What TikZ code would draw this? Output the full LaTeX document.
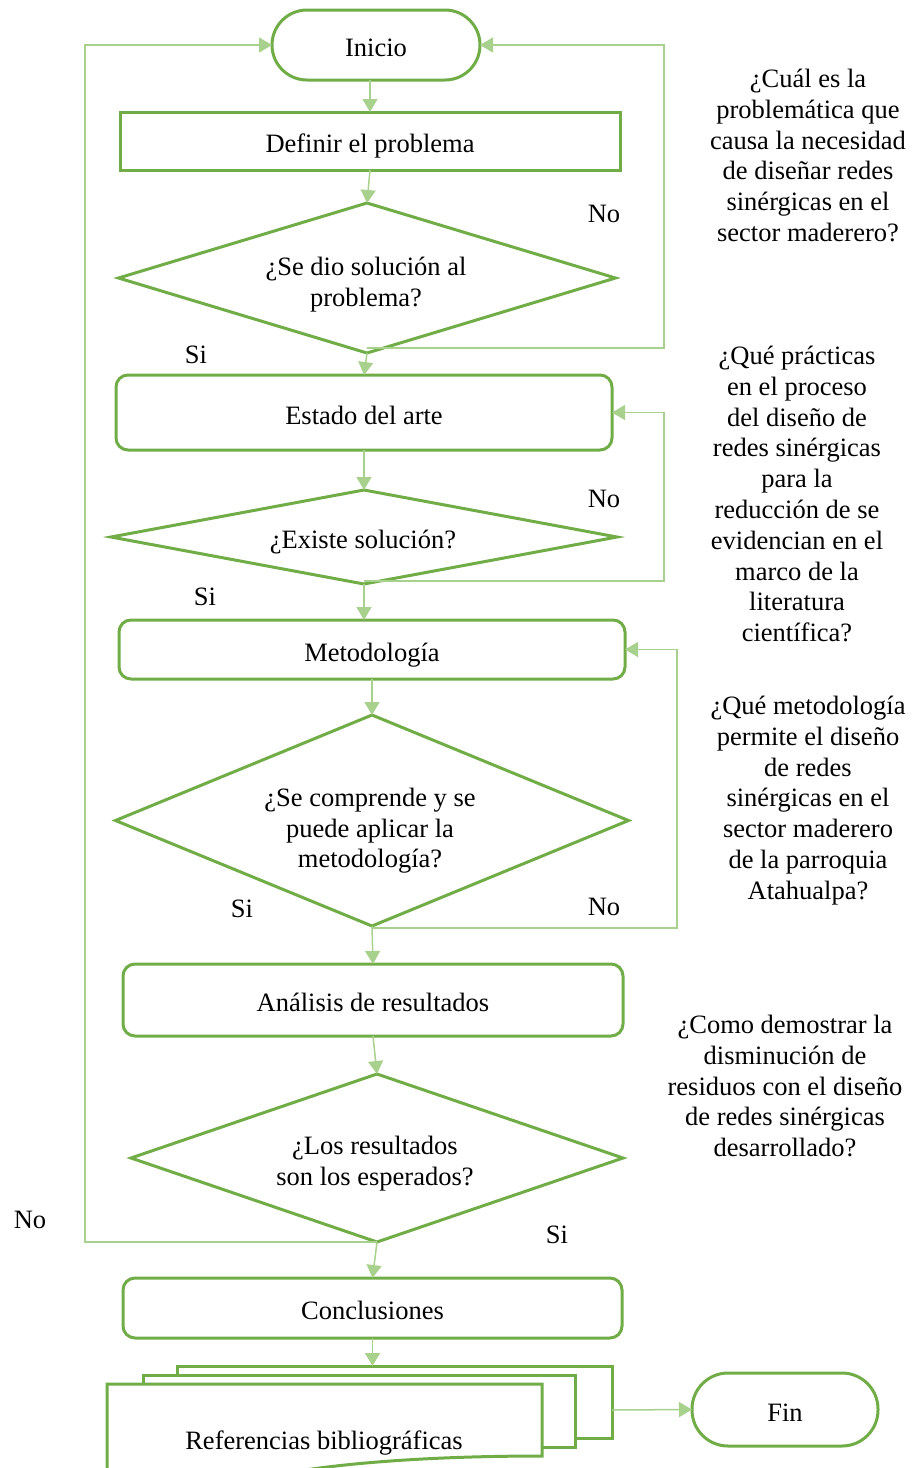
\documentclass[tikz,border=0pt]{standalone}
\usepackage{fontspec}
\setmainfont{Liberation Serif}
\usetikzlibrary{shapes.geometric,arrows.meta}
\definecolor{shapegreen}{HTML}{70AD47}
\definecolor{linkgreen}{HTML}{A9D18E}
\begin{document}
\begin{tikzpicture}[x=1pt,y=-1pt,
  every node/.style={font=\fontsize{26.5}{30.8}\selectfont, inner sep=0pt, outer sep=0pt},
  shp/.style={draw=shapegreen, line width=3pt, fill=white},
  one/.style={text height=23pt, text depth=0pt},
  stadium/.style={shp, one, rectangle, rounded corners=35pt},
  proc/.style={shp, one, rectangle},
  rproc/.style={shp, one, rectangle, rounded corners=12pt},
  dec/.style={shp, diamond},
  link/.style={draw=linkgreen, line width=1.5pt, -{Triangle[length=13pt,width=15pt]}},
  txt/.style={align=center},
]
\useasboundingbox (0,0) rectangle (911,1468);
\clip (0,0) rectangle (911,1468);

% shapes
\node[stadium, minimum width=208, minimum height=70] (inicio) at (376,45) {Inicio};
\node[proc, minimum width=500, minimum height=58] (definir) at (370,141) {Definir el problema};
\node[dec, minimum width=497, minimum height=150] (d1) at (367,278) {};
\node[txt, anchor=north] (d1t) at (366,257) {¿Se dio solución al\\problema?};
\node[rproc, minimum width=496, minimum height=75] (estado) at (364,412.5) {Estado del arte};
\node[dec, minimum width=506, minimum height=94] (d2) at (364,537) {};
\node (d2t) at (363,542) {¿Existe solución?};
\node[rproc, minimum width=506, minimum height=59] (metod) at (372,649.5) {Metodología};
\node[dec, minimum width=513, minimum height=211] (d3) at (372,820.5) {};
\node[txt, anchor=north] (d3t) at (370,788) {¿Se comprende y se\\puede aplicar la\\metodología?};
\node[rproc, minimum width=500, minimum height=72] (analisis) at (373,1000) {Análisis de resultados};
\node[dec, minimum width=492, minimum height=168] (d4) at (377,1158) {};
\node[txt, anchor=north] (d4t) at (375,1136) {¿Los resultados\\son los esperados?};
\node[rproc, minimum width=499, minimum height=60] (concl) at (372.5,1308) {Conclusiones};

% multi-document
\node[proc, minimum width=435, minimum height=72] (refs) at (394.5,1402) {};
\node[proc, minimum width=432, minimum height=72] (refsb) at (359,1411) {};
\draw[shp] (107,1384) -- (542,1384) -- (542,1456)
  .. controls (440,1456) and (340,1462) .. (270,1476)
  .. controls (210,1490) and (150,1500) .. (107,1496) -- cycle;
\node (reftxt) at (324,1443) {Referencias bibliográficas};

\node[stadium, rounded corners=36pt, minimum width=186, minimum height=73] (fin) at (785,1409.5) {Fin};

% corner coordinates for loops
\coordinate (r1) at (664,45);
\coordinate (r2) at (664,412.5);
\coordinate (r3) at (677,649.5);
\coordinate (r4) at (85,45);

% connectors
\draw[link] (inicio.south -| definir.north) -- (definir.north);
\draw[link] (definir.south) -- (d1.north);
\draw[link] (d1.south) -- (estado.north);
\draw[link] (estado.south) -- (d2.north);
\draw[link] (d2.south) -- (d2.south |- metod.north);
\draw[link] (metod.south) -- (d3.north);
\draw[link] (d3.south) -- (analisis.north);
\draw[link] (analisis.south) -- (d4.north);
\draw[link] (d4.south) -- (concl.north);
\draw[link] (concl.south) -- (concl.south |- refs.north);
\draw[link] ([yshift=-8pt]refs.east) -- (fin.west);

\draw[link] ([yshift=5pt]d1.south) -| (r1) -- (inicio.east);
\draw[link] ([yshift=3pt]d2.south) -| (r2) -- (estado.east);
\draw[link] ([yshift=-2pt]d3.south) -| (r3) -- (metod.east);
\draw[link] (d4.south) -| (r4) -- (inicio.west);

% branch labels
\node (no1) at (604,214) {No};
\node (si1) at (196,355) {Si};
\node (no2) at (604,499) {No};
\node (si2) at (205,597) {Si};
\node (no3) at (604,907) {No};
\node (si3) at (242,909) {Si};
\node (no4) at (30,1220) {No};
\node (si4) at (557,1235) {Si};

% side questions
\node[txt, anchor=north] (q1) at (808,69) {¿Cuál es la\\problemática que\\causa la necesidad\\de diseñar redes\\sinérgicas en el\\sector maderero?};
\node[txt, anchor=north] (q2) at (797,346) {¿Qué prácticas\\en el proceso\\del diseño de\\redes sinérgicas\\para la\\reducción de se\\evidencian en el\\marco de la\\literatura\\científica?};
\node[txt, anchor=north] (q3) at (808,696) {¿Qué metodología\\permite el diseño\\de redes\\sinérgicas en el\\sector maderero\\de la parroquia\\Atahualpa?};
\node[txt, anchor=north] (q4) at (785,1015) {¿Como demostrar la\\disminución de\\residuos con el diseño\\de redes sinérgicas\\desarrollado?};
\end{tikzpicture}
\end{document}
